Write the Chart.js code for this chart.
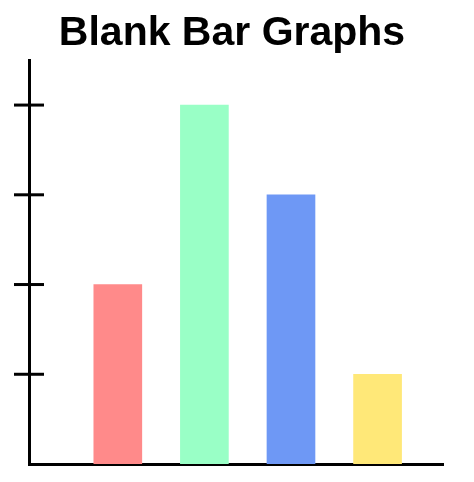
<!DOCTYPE html>
<html>
<head>
<script src="https://cdn.jsdelivr.net/npm/chart.js@4"></script>
<style>
  html, body { margin: 0; padding: 0; background: #fff; }
  #wrap { width: 474px; height: 482px; }
</style>
</head>
<body>
<div id="wrap"><canvas id="chart"></canvas></div>
<script>
const positions = [1, 2, 3, 4];
const values = [2, 4, 3, 1];
const barColors = ['#FF8A8A', '#99FFC6', '#6E98F5', '#FFE878'];
const tickValues = [1, 2, 3, 4];

// cross ticks on the y axis
const crossTicks = {
  id: 'crossTicks',
  afterDraw(chart) {
    const ctx = chart.ctx;
    const y = chart.scales.y;
    const x0 = chart.chartArea.left;
    ctx.save();
    ctx.strokeStyle = '#000';
    ctx.lineWidth = 3;
    tickValues.forEach(v => {
      const py = y.getPixelForValue(v);
      ctx.beginPath();
      ctx.moveTo(x0 - 15, py);
      ctx.lineTo(x0 + 15, py);
      ctx.stroke();
    });
    ctx.restore();
  }
};

new Chart(document.getElementById('chart'), {
  type: 'bar',
  data: {
    datasets: [{
      data: positions.map((p, i) => ({ x: p, y: values[i] })),
      backgroundColor: barColors,
      barThickness: 48
    }]
  },
  options: {
    responsive: true,
    maintainAspectRatio: false,
    animation: false,
    layout: { padding: { left: 21, right: 31, bottom: 10, top: 0 } },
    plugins: {
      legend: { display: false },
      tooltip: { enabled: false },
      title: {
        display: true,
        text: 'Blank Bar Graphs',
        color: '#000',
        font: { family: 'Liberation Sans, Arial, sans-serif', size: 41, weight: 'bold' },
        padding: { top: 9, bottom: 2 }
      }
    },
    scales: {
      x: {
        type: 'linear',
        min: 0.24,
        max: 4.49,
        grid: { display: false },
        ticks: { display: false },
        border: { color: '#000', width: 3 }
      },
      y: {
        min: 0,
        max: 4.5,
        grid: { display: false },
        ticks: { display: false },
        border: { color: '#000', width: 3 }
      }
    }
  },
  plugins: [crossTicks]
});
</script>
</body>
</html>
